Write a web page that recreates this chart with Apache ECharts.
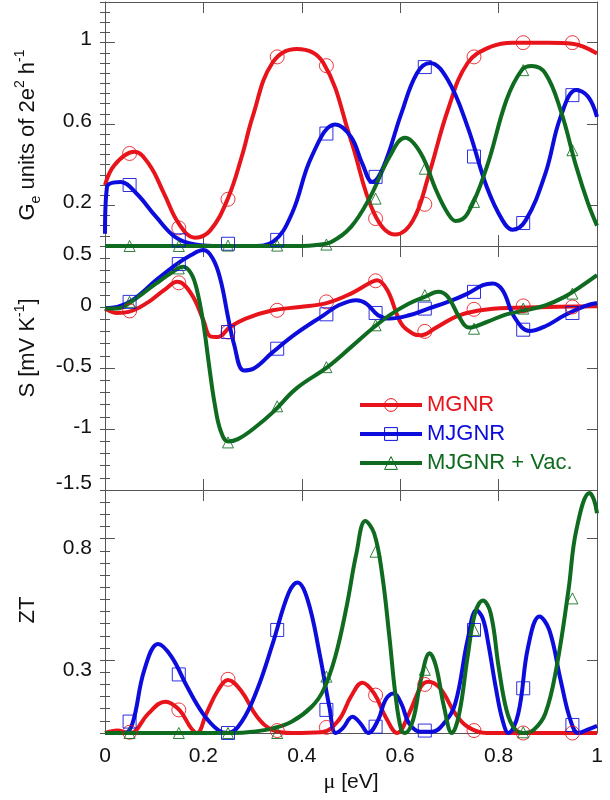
<!DOCTYPE html>
<html><head><meta charset="utf-8">
<script src="https://cdn.jsdelivr.net/npm/echarts@6/dist/echarts.min.js"></script>
<style>html,body{margin:0;padding:0;background:#fff}#c{width:610px;height:800px}</style>
</head><body><div id="c"></div>
<script>
// ---------- data ----------
const seriesNames = ['MGNR', 'MJGNR', 'MJGNR + Vac.'];
const markerX = [0.05, 0.15, 0.25, 0.35, 0.45, 0.55, 0.65, 0.75, 0.85, 0.95];

// Panel 1: Ge (units of 2e^2/h)
const gMGNR = [[0,0.30],[0.02,0.40],[0.06,0.463],[0.09,0.40],[0.12,0.258],[0.15,0.11],[0.183,0.041],[0.214,0.077],[0.25,0.235],[0.278,0.44],[0.30,0.635],[0.34,0.90],[0.39,0.969],[0.444,0.90],[0.50,0.52],[0.547,0.16],[0.59,0.056],[0.626,0.126],[0.657,0.34],[0.697,0.67],[0.737,0.90],[0.784,0.98],[0.83,1.0],[0.90,1.0],[0.95,0.995],[1,0.947]];
const gMJGNR = [[0,0.06],[0.004,0.29],[0.032,0.315],[0.064,0.258],[0.104,0.143],[0.143,0.044],[0.183,0.007],[0.22,0],[0.30,0],[0.341,0.02],[0.38,0.16],[0.42,0.44],[0.468,0.598],[0.50,0.537],[0.523,0.405],[0.543,0.315],[0.566,0.39],[0.602,0.65],[0.634,0.85],[0.661,0.90],[0.697,0.816],[0.737,0.586],[0.776,0.29],[0.808,0.126],[0.828,0.08],[0.855,0.126],[0.895,0.356],[0.926,0.635],[0.958,0.767],[0.982,0.734],[1,0.635]];
const gVac = [[0,0],[0.40,0],[0.43,0.005],[0.46,0.02],[0.50,0.094],[0.539,0.241],[0.578,0.438],[0.61,0.532],[0.642,0.455],[0.673,0.274],[0.697,0.16],[0.713,0.123],[0.737,0.16],[0.776,0.389],[0.816,0.718],[0.847,0.865],[0.867,0.885],[0.895,0.849],[0.926,0.668],[0.958,0.389],[0.982,0.208],[1,0.10]];
const gMGNRMk = [0.455,0.089,0.23,0.93,0.887,0.135,0.205,0.93,1.0,1.0];
const gMJGNRMk = [0.30,0.028,0.011,0.03,0.553,0.34,0.88,0.44,0.113,0.742];
const gVacMk = [0,0,0.002,0.002,0.007,0.233,0.38,0.217,0.865,0.471];

// Panel 2: S (mV/K)
const sMGNR = [[0,-0.013],[0.025,-0.049],[0.048,-0.04],[0.088,0.04],[0.12,0.138],[0.147,0.206],[0.175,0.11],[0.2,-0.109],[0.214,-0.24],[0.23,-0.245],[0.254,-0.164],[0.286,-0.095],[0.341,-0.027],[0.396,0.0],[0.452,0.034],[0.5,0.11],[0.539,0.198],[0.553,0.22],[0.574,0.138],[0.602,-0.136],[0.626,-0.219],[0.642,-0.232],[0.673,-0.169],[0.72,-0.068],[0.776,-0.021],[0.855,-0.005],[1,0.006]];
const sMJGNR = [[0,-0.01],[0.025,0],[0.056,0.056],[0.104,0.22],[0.143,0.344],[0.175,0.426],[0.2,0.467],[0.219,0.398],[0.235,0.22],[0.25,-0.082],[0.262,-0.301],[0.282,-0.52],[0.301,-0.507],[0.341,-0.37],[0.388,-0.219],[0.444,-0.068],[0.475,0.014],[0.511,0.056],[0.531,0.028],[0.555,-0.068],[0.578,-0.095],[0.618,-0.068],[0.657,-0.013],[0.697,0.042],[0.737,0.11],[0.768,0.179],[0.788,0.193],[0.808,0.138],[0.832,-0.082],[0.863,-0.197],[0.895,-0.158],[0.934,-0.068],[0.974,0.006],[1,0.033]];
const sVac = [[0,-0.013],[0.025,-0.013],[0.053,0.042],[0.104,0.193],[0.135,0.28],[0.159,0.33],[0.175,0.275],[0.187,0.138],[0.2,-0.136],[0.212,-0.493],[0.223,-0.795],[0.235,-1.014],[0.25,-1.102],[0.27,-1.083],[0.301,-1.0],[0.341,-0.864],[0.388,-0.671],[0.452,-0.493],[0.5,-0.329],[0.547,-0.164],[0.578,-0.068],[0.618,0.028],[0.65,0.083],[0.677,0.124],[0.697,0.083],[0.72,-0.082],[0.74,-0.169],[0.776,-0.123],[0.816,-0.06],[0.855,-0.027],[0.895,0.014],[0.934,0.083],[0.966,0.165],[1,0.261]];
const sMGNRMk = [-0.032,0.198,-0.205,-0.027,0.042,0.215,-0.2,-0.019,0.009,0.0];
const sMJGNRMk = [0.042,0.352,-0.205,-0.342,-0.06,-0.049,-0.013,0.124,-0.186,-0.049];
const sVacMk = [0.042,0.316,-1.11,-0.814,-0.493,-0.15,0.097,-0.178,-0.013,0.11];

// Panel 3: ZT
const zMGNR = [[0,0],[0.025,0.01],[0.05,0],[0.06,0.005],[0.088,0.08],[0.123,0.129],[0.151,0.095],[0.175,0.02],[0.187,0],[0.206,0.08],[0.23,0.177],[0.25,0.218],[0.278,0.17],[0.309,0.067],[0.341,0.012],[0.38,0],[0.44,0.003],[0.475,0.053],[0.5,0.15],[0.523,0.207],[0.547,0.163],[0.57,0.067],[0.594,0],[0.618,0.08],[0.642,0.19],[0.657,0.211],[0.681,0.184],[0.712,0.08],[0.737,0.026],[0.776,0],[1,0]];
const zMJGNR = [[0,0],[0.04,0],[0.056,0.04],[0.08,0.26],[0.108,0.366],[0.135,0.314],[0.167,0.19],[0.199,0.08],[0.23,0.012],[0.25,0],[0.278,0.047],[0.309,0.177],[0.341,0.369],[0.373,0.575],[0.391,0.619],[0.412,0.547],[0.436,0.328],[0.456,0.108],[0.469,0],[0.483,0.019],[0.503,0.067],[0.519,0.04],[0.535,0],[0.555,0.053],[0.57,0.136],[0.586,0.163],[0.602,0.122],[0.618,0.04],[0.642,0.005],[0.665,0.005],[0.689,0.04],[0.712,0.122],[0.737,0.383],[0.755,0.505],[0.768,0.47],[0.779,0.369],[0.794,0.19],[0.808,0.053],[0.82,0],[0.84,0.08],[0.86,0.355],[0.883,0.479],[0.903,0.424],[0.926,0.218],[0.946,0.053],[0.962,0],[0.982,0.015],[1,0.029]];
const zVac = [[0,0],[0.26,0],[0.3,0.005],[0.341,0.019],[0.38,0.047],[0.42,0.108],[0.444,0.177],[0.468,0.314],[0.491,0.52],[0.511,0.739],[0.529,0.872],[0.547,0.822],[0.563,0.657],[0.578,0.396],[0.59,0.163],[0.602,0.012],[0.61,0],[0.626,0.053],[0.642,0.218],[0.66,0.328],[0.673,0.273],[0.689,0.108],[0.705,0],[0.72,0.08],[0.737,0.314],[0.752,0.492],[0.768,0.545],[0.784,0.492],[0.8,0.273],[0.816,0.095],[0.832,0.019],[0.851,0],[0.871,0.012],[0.895,0.08],[0.918,0.273],[0.942,0.588],[0.958,0.835],[0.985,0.988],[0.994,0.959],[1,0.904]];
const zMGNRMk = [0.003,0.095,0.221,0.01,0.023,0.156,0.2,0.01,0,0];
const zMJGNRMk = [0.047,0.241,0,0.424,0.095,0.026,0.01,0.424,0.184,0.033];
const zVacMk = [0,0,0,0,0.232,0.746,0.26,0.424,0.003,0.554];

// axis tick values
const gTicks = [0.2, 0.6, 1];
const zTicks = [0.3, 0.8];

// ---------- styling ----------
const FONT = '"Liberation Sans", Arial, sans-serif';
const AX = '#555';
const TXT = '#111';
const COLORS = ['#e8141c', '#0c0cdc', '#0e6b1f'];
const SYMBOLS = ['circle', 'rect', 'triangle'];
const SYMSIZE = [14, 13, 11];

const grids = [
  {left: 105, right: 13, top: 2, height: 244},
  {left: 105, right: 13, top: 246, height: 244},
  {left: 105, right: 13, top: 490, height: 243}
];

const xAxes = [];
grids.forEach((g, i) => {
  const last = i === grids.length - 1;
  xAxes.push({
    type: 'value', gridIndex: i, min: 0, max: 1, interval: 0.2, position: 'bottom',
    axisLine: {show: true, onZero: false, lineStyle: {color: AX, width: 1}},
    axisTick: {show: !last, inside: true, length: 11, lineStyle: {color: AX}},
    axisLabel: {show: last, margin: 13, fontSize: 21, fontFamily: FONT, color: TXT},
    splitLine: {show: false},
    name: last ? '{mu|\u03bc} [eV]' : '', nameLocation: 'middle', nameGap: 38,
    nameTextStyle: {fontSize: 21, fontFamily: FONT, color: TXT,
      rich: {mu: {fontFamily: '"Liberation Serif", serif', fontSize: 22, color: TXT}}}
  });
  xAxes.push({
    type: 'value', gridIndex: i, min: 0, max: 1, interval: 0.2, position: 'top',
    axisLine: {show: true, onZero: false, lineStyle: {color: AX, width: 1}},
    axisTick: {show: true, inside: true, length: 11, lineStyle: {color: AX}},
    axisLabel: {show: false}, splitLine: {show: false}
  });
});

// label shifting styles (rich tokens with padding move the text up or down)
const labelRich = {
  up5: {fontSize: 21, fontFamily: FONT, color: TXT, padding: [0, 0, 6, 0]},
  up4: {fontSize: 21, fontFamily: FONT, color: TXT, padding: [0, 0, 4, 0]},
  dn7: {fontSize: 21, fontFamily: FONT, color: TXT, padding: [16, 0, 0, 0]},
  up8: {fontSize: 21, fontFamily: FONT, color: TXT, padding: [0, 0, 14, 0]},
  dn9: {fontSize: 21, fontFamily: FONT, color: TXT, padding: [20, 0, 0, 0]}
};
const yDefs = [
  {min: 0, max: 1.2, custom: gTicks, minor: 0.05, fmt: v => '{up5|' + v + '}'},
  {min: -1.5, max: 0.5, interval: 0.5, minor: 0.1,
    fmt: v => (v === 0.5 ? '{dn7|' : v === -1.5 ? '{up8|' : '{up4|') + v + '}'},
  {min: 0, max: 1, custom: zTicks, minor: 0.05, fmt: v => '{dn9|' + v + '}'}
];
const yAxes = [];
yDefs.forEach((d, i) => {
  ['left', 'right'].forEach(pos => {
    const major = {
      type: 'value', gridIndex: i, min: d.min, max: d.max, position: pos,
      axisLine: {show: true, onZero: false, lineStyle: {color: AX, width: 1}},
      axisTick: {show: true, inside: true, length: 10, lineStyle: {color: AX}},
      axisLabel: {show: pos === 'left', margin: 13, fontSize: 21, fontFamily: FONT, color: TXT,
        formatter: d.fmt, rich: labelRich},
      splitLine: {show: false}
    };
    if (d.custom) {
      major.axisTick.customValues = d.custom;
      major.axisLabel.customValues = d.custom;
    } else {
      major.interval = d.interval;
    }
    yAxes.push(major);
    yAxes.push({
      type: 'value', gridIndex: i, min: d.min, max: d.max, interval: d.minor, position: pos,
      axisLine: {show: false},
      axisTick: {show: true, inside: true, length: 5, lineStyle: {color: AX}},
      axisLabel: {show: false}, splitLine: {show: false}
    });
  });
});

const panelLines = [[gMGNR, gMJGNR, gVac], [sMGNR, sMJGNR, sVac], [zMGNR, zMJGNR, zVac]];
const panelMarks = [[gMGNRMk, gMJGNRMk, gVacMk], [sMGNRMk, sMJGNRMk, sVacMk], [zMGNRMk, zMJGNRMk, zVacMk]];

const series = [];
panelLines.forEach((lines, p) => {
  lines.forEach((data, k) => {
    series.push({
      type: 'line', name: seriesNames[k], xAxisIndex: 2 * p, yAxisIndex: 4 * p,
      data: data, smooth: 0.4, showSymbol: false, symbol: SYMBOLS[k],
      lineStyle: {color: COLORS[k], width: 4}, itemStyle: {color: COLORS[k]},
      silent: true, z: 3
    });
  });
});
panelMarks.forEach((marks, p) => {
  marks.forEach((vals, k) => {
    series.push({
      type: 'scatter', name: seriesNames[k], xAxisIndex: 2 * p, yAxisIndex: 4 * p,
      data: markerX.map((x, i) => [x, vals[i]]), symbol: SYMBOLS[k], symbolSize: SYMSIZE[k],
      itemStyle: {color: 'rgba(0,0,0,0)', borderColor: COLORS[k], borderWidth: 1, opacity: 0.85},
      silent: true, z: 4
    });
  });
});

const titleRich = {
  b: {fontSize: 22, fontFamily: FONT, fill: TXT, lineHeight: 30, verticalAlign: 'middle'},
  sup: {fontSize: 14, fontFamily: FONT, fill: TXT, lineHeight: 30, verticalAlign: 'top'},
  sub: {fontSize: 14, fontFamily: FONT, fill: TXT, lineHeight: 30, verticalAlign: 'bottom'}
};

const option = {
  animation: false,
  backgroundColor: '#fff',
  grid: grids,
  xAxis: xAxes,
  yAxis: yAxes,
  legend: {
    orient: 'vertical', left: 353, top: 389, itemWidth: 62, itemHeight: 16, itemGap: 7,
    selectedMode: false,
    textStyle: {fontSize: 22, fontFamily: FONT},
    lineStyle: {width: 4},
    data: seriesNames.map((n, k) => ({
      name: n, textStyle: {color: COLORS[k]},
      itemStyle: {color: 'rgba(0,0,0,0)', borderColor: COLORS[k], borderWidth: 1}
    }))
  },
  graphic: [
    {type: 'text', x: 28, y: 135, rotation: Math.PI / 2,
      style: {text: '{b|G}{sub|e}{b| units of 2e}{sup|2}{b| h}{sup|-1}', rich: titleRich,
        align: 'center', verticalAlign: 'middle'}},
    {type: 'text', x: 28, y: 348, rotation: Math.PI / 2,
      style: {text: '{b|S [mV K}{sup|-1}{b|]}', rich: titleRich, align: 'center', verticalAlign: 'middle'}},
    {type: 'text', x: 28, y: 610, rotation: Math.PI / 2,
      style: {text: '{b|ZT}', rich: titleRich, align: 'center', verticalAlign: 'middle'}}
  ],
  series: series
};

const chart = echarts.init(document.getElementById('c'), null, {renderer: 'canvas'});
chart.setOption(option);
</script>
</body></html>
